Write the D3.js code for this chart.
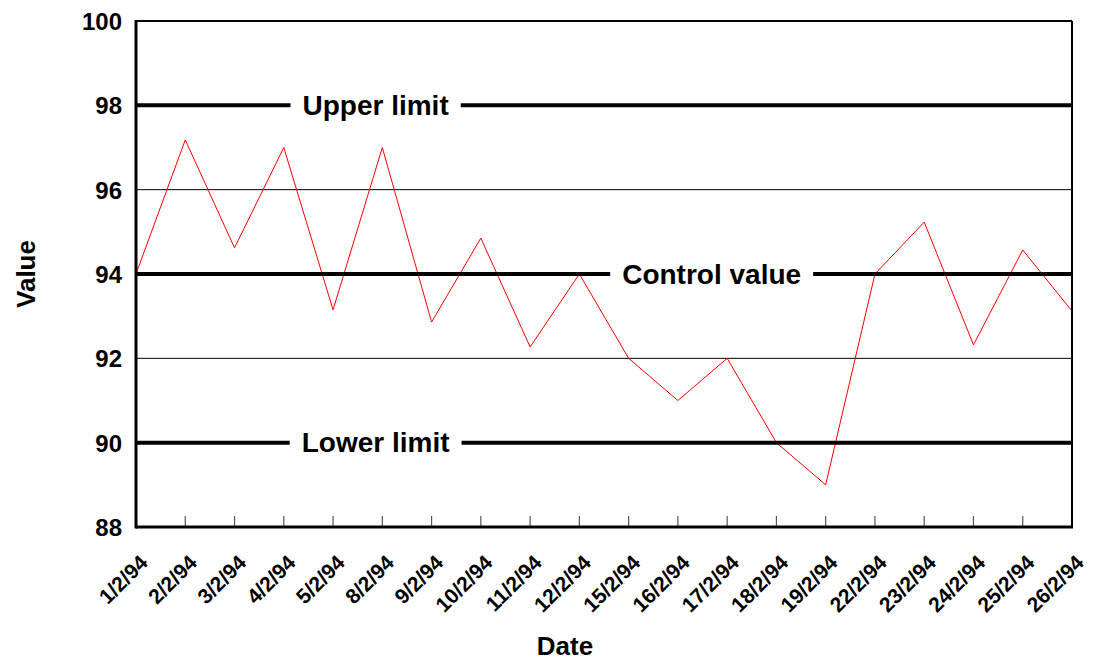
<!DOCTYPE html>
<html><head><meta charset="utf-8">
<script src="https://cdn.jsdelivr.net/npm/d3@7"></script>
<style>body{margin:0;background:#fff;}svg{display:block;font-family:"Liberation Sans",Arial,sans-serif;}</style>
</head><body>
<script>
const dates = ["1/2/94","2/2/94","3/2/94","4/2/94","5/2/94","8/2/94","9/2/94","10/2/94","11/2/94","12/2/94","15/2/94","16/2/94","17/2/94","18/2/94","19/2/94","22/2/94","23/2/94","24/2/94","25/2/94","26/2/94"];
const values = [94.0,97.18,94.62,97.0,93.15,97.0,92.86,94.85,92.27,94.0,92.0,91.0,92.0,90.0,89.0,94.0,95.23,92.32,94.57,93.12];
const yTicks = [88,90,92,94,96,98,100];
const gridValues = [96,92];
const limitValues = [98,94,90];
const limitLabels = ["Upper limit","Control value","Lower limit"];
const limitLabelPos = [0.256,0.615,0.256]; // fraction along plot width

const W=1093,H=660;
const m={l:136,r:21,t:21,b:133};
const svg=d3.select("body").append("svg").attr("width",W).attr("height",H);
const x=d3.scalePoint().domain(dates).range([m.l,W-m.r]);
const y=d3.scaleLinear().domain([88,100]).range([H-m.b,m.t]);

// gridlines
svg.selectAll(".grid").data(gridValues).enter().append("line")
 .attr("x1",m.l).attr("x2",W-m.r).attr("y1",d=>y(d)).attr("y2",d=>y(d))
 .attr("stroke","#000").attr("stroke-width",1);

// x ticks (inside, upward)
svg.selectAll(".xt").data(dates.slice(1,-1)).enter().append("line")
 .attr("x1",d=>x(d)).attr("x2",d=>x(d)).attr("y1",y(88)).attr("y2",y(88)-11)
 .attr("stroke","#555").attr("stroke-width",1.2);

// data line
svg.append("path").datum(values.map((v,i)=>[dates[i],v]))
 .attr("fill","none").attr("stroke","#ff0000").attr("stroke-width",1)
 .attr("d",d3.line().x(d=>x(d[0])).y(d=>y(d[1])));

// limit lines with labels
limitValues.forEach((v,i)=>{
  const cx=m.l+(W-m.r-m.l)*limitLabelPos[i];
  const t=svg.append("text").attr("x",cx).attr("y",y(v)+9.5).attr("text-anchor","middle")
    .attr("font-size",28).attr("font-weight","bold").text(limitLabels[i]);
  const bb=t.node().getBBox();
  const pad=12;
  svg.append("line").attr("x1",m.l).attr("x2",bb.x-pad).attr("y1",y(v)).attr("y2",y(v))
    .attr("stroke","#000").attr("stroke-width",4);
  svg.append("line").attr("x1",bb.x+bb.width+pad).attr("x2",W-m.r).attr("y1",y(v)).attr("y2",y(v))
    .attr("stroke","#000").attr("stroke-width",4);
});

// frame
svg.append("line").attr("x1",m.l).attr("x2",W-m.r).attr("y1",y(100)).attr("y2",y(100)).attr("stroke","#000").attr("stroke-width",2);
svg.append("line").attr("x1",W-m.r).attr("x2",W-m.r).attr("y1",y(100)).attr("y2",y(88)).attr("stroke","#000").attr("stroke-width",2);
svg.append("line").attr("x1",m.l).attr("x2",m.l).attr("y1",y(100)-1).attr("y2",y(88)+1.5).attr("stroke","#000").attr("stroke-width",3);
svg.append("line").attr("x1",m.l).attr("x2",W-m.r+1).attr("y1",y(88)).attr("y2",y(88)).attr("stroke","#000").attr("stroke-width",3);

// y tick labels
svg.selectAll(".yl").data(yTicks).enter().append("text")
 .attr("x",122).attr("y",d=>y(d)+9).attr("text-anchor","end")
 .attr("font-size",24).attr("font-weight","bold").text(d=>d);

// x tick labels
svg.selectAll(".xl").data(dates).enter().append("text")
 .attr("transform",d=>`translate(${x(d)+13},${y(88)+37}) rotate(-45)`)
 .attr("text-anchor","end").attr("font-size",21).attr("font-weight","bold").text(d=>d);

// axis titles
svg.append("text").attr("x",565).attr("y",655).attr("text-anchor","middle")
 .attr("font-size",26).attr("font-weight","bold").text("Date");
svg.append("text").attr("transform",`translate(35,${y(94)}) rotate(-90)`).attr("text-anchor","middle")
 .attr("font-size",26).attr("font-weight","bold").text("Value");
</script>
</body></html>
